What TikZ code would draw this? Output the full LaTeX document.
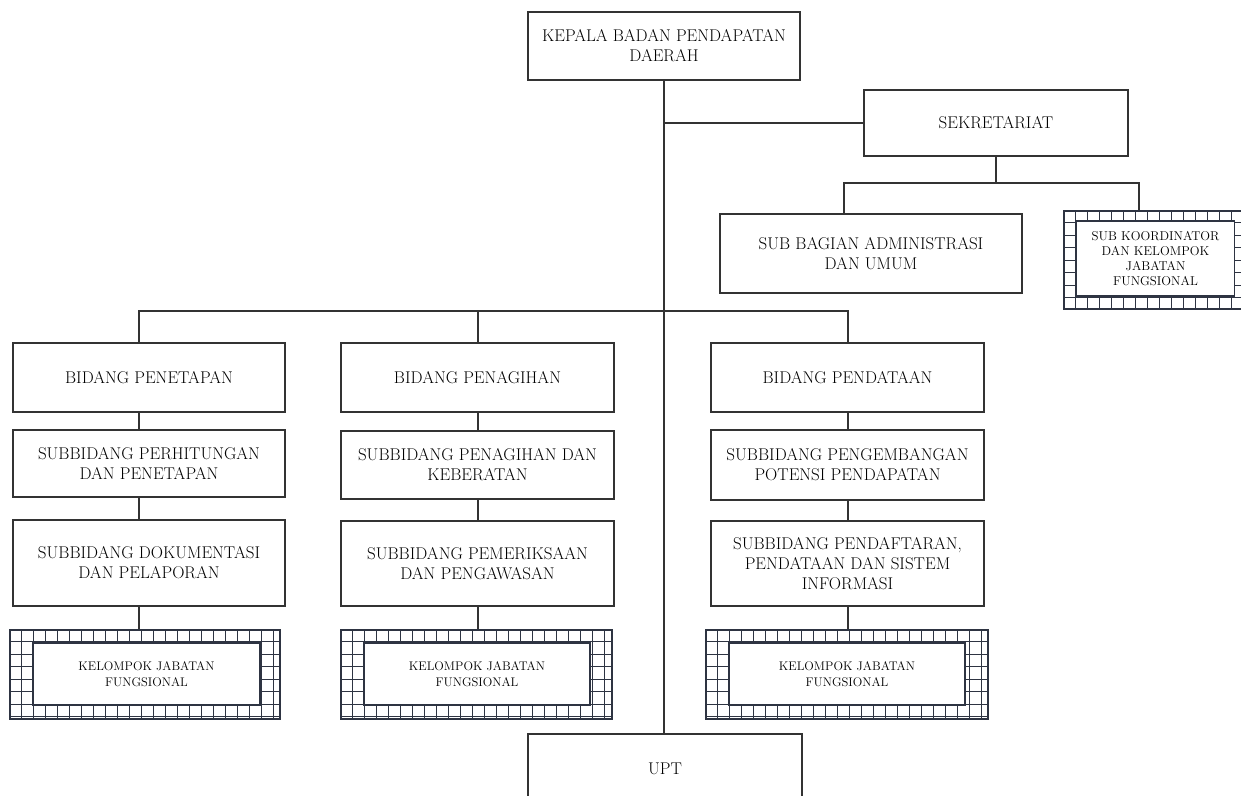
\documentclass[tikz,border=0pt]{standalone}
\usepackage{fontspec}
\usepackage{xcolor}
\usepackage{tikz}
\usetikzlibrary{positioning,calc}
\definecolor{garis}{HTML}{333333}
\definecolor{pola}{HTML}{2E3442}

\begin{document}
\begin{tikzpicture}[x=1pt,y=-1pt,
  kotak/.style={draw=garis,line width=1.3pt,fill=white,align=center,inner sep=2pt,font=\fontsize{17}{20}\selectfont},
  pagar/.style={draw=pola,line width=1.8pt,fill=white,inner sep=0pt},
  kisi/.style={pola,line width=1.1pt},
  kecil/.style={draw=pola,line width=1.5pt,fill=white,align=center,inner sep=1pt,font=\fontsize{12.5}{16.5}\selectfont},
  hub/.style={draw=garis,line width=1.3pt}]
\path[use as bounding box,clip] (0,0) rectangle (1241,795);
% pimpinan
\node[kotak,minimum width=272,minimum height=68] (kepala) at (664,46) {KEPALA BADAN PENDAPATAN\\DAERAH};
\node[kotak,minimum width=264,minimum height=66] (sekre) at (996,123) {SEKRETARIAT};
\node[kotak,minimum width=302,minimum height=79] (subbag) at (871,253.5) {SUB BAGIAN ADMINISTRASI\\DAN UMUM};
% kolom 1
\node[kotak,minimum width=272,minimum height=69] (b1) at (149,377.5) {BIDANG PENETAPAN};
\node[kotak,minimum width=272,minimum height=67] (s11) at (149,463.5) {SUBBIDANG PERHITUNGAN\\DAN PENETAPAN};
\node[kotak,minimum width=272,minimum height=86] (s12) at (149,563) {SUBBIDANG DOKUMENTASI\\DAN PELAPORAN};
% kolom 2
\node[kotak,minimum width=273,minimum height=69] (b2) at (477.5,377.5) {BIDANG PENAGIHAN};
\node[kotak,minimum width=273,minimum height=68] (s21) at (477.5,465) {SUBBIDANG PENAGIHAN DAN\\KEBERATAN};
\node[kotak,minimum width=273,minimum height=85] (s22) at (477.5,563.5) {SUBBIDANG PEMERIKSAAN\\DAN PENGAWASAN};
% kolom 3
\node[kotak,minimum width=273,minimum height=69] (b3) at (847.5,377.5) {BIDANG PENDATAAN};
\node[kotak,minimum width=273,minimum height=70] (s31) at (847.5,465) {SUBBIDANG PENGEMBANGAN\\POTENSI PENDAPATAN};
\node[kotak,minimum width=273,minimum height=85] (s32) at (847.5,563.5) {SUBBIDANG PENDAFTARAN,\\PENDATAAN DAN SISTEM\\INFORMASI};
% kotak berpola
\node[pagar,minimum width=182,minimum height=98] (subkoor) at (1155,260) {};
\node[pagar,minimum width=270,minimum height=89] (k1) at (145,674.5) {};
\node[pagar,minimum width=271,minimum height=89] (k2) at (476.5,674.5) {};
\node[pagar,minimum width=282,minimum height=89] (k3) at (847,674.5) {};
\foreach \k/\w/\h in {subkoor/182/98,k1/270/89,k2/271/89,k3/282/89}{
  \foreach \i in {12,24,...,\w} \draw[kisi] (\k.north west) ++(\i,0) -- ++(0,\h);
  \foreach \j in {12.5,25,...,\h} \draw[kisi] (\k.north west) ++(0,\j) -- ++(\w,0);
}
\node[kecil,minimum width=158,minimum height=75,font=\fontsize{12.8}{15}\selectfont] (subkoort) at (1155.5,258.5) {SUB KOORDINATOR\\DAN KELOMPOK\\JABATAN\\FUNGSIONAL};
\node[kecil,minimum width=227,minimum height=62] (k1t) at (146.5,674) {KELOMPOK JABATAN\\FUNGSIONAL};
\node[kecil,minimum width=226,minimum height=62] (k2t) at (477,674) {KELOMPOK JABATAN\\FUNGSIONAL};
\node[kecil,minimum width=236,minimum height=62] (k3t) at (847,674) {KELOMPOK JABATAN\\FUNGSIONAL};
% upt
\node[kotak,minimum width=274,minimum height=112] (upt) at (665,790) {};
\node[font=\fontsize{17}{20}\selectfont] (uptt) at (665,769) {UPT};
% garis
\coordinate (cab) at (kepala.south |- sekre.west);
\coordinate (sa) at (844,183);
\coordinate (sb) at (1139,183);
\coordinate (j1) at (139,311);
\coordinate (j2) at (478,311);
\coordinate (j3) at (848,311);
\draw[hub] (kepala.south) -- (kepala.south |- upt.north);
\draw[hub] (cab) -- (sekre.west);
\draw[hub] (sekre.south) -- (sekre.south |- sa);
\draw[hub] (subbag.north -| sa) -- (sa) -- (sb) -- (subkoor.north -| sb);
\draw[hub] (b1.north -| j1) -- (j1) -- (j3) -- (b3.north -| j3);
\draw[hub] (j2) -- (b2.north -| j2);
\draw[hub] (b1.south -| j1) -- (s11.north -| j1);
\draw[hub] (s11.south -| j1) -- (s12.north -| j1);
\draw[hub] (s12.south -| j1) -- (k1.north -| j1);
\draw[hub] (b2.south -| j2) -- (s21.north -| j2);
\draw[hub] (s21.south -| j2) -- (s22.north -| j2);
\draw[hub] (s22.south -| j2) -- (k2.north -| j2);
\draw[hub] (b3.south -| j3) -- (s31.north -| j3);
\draw[hub] (s31.south -| j3) -- (s32.north -| j3);
\draw[hub] (s32.south -| j3) -- (k3.north -| j3);
\end{tikzpicture}
\end{document}
